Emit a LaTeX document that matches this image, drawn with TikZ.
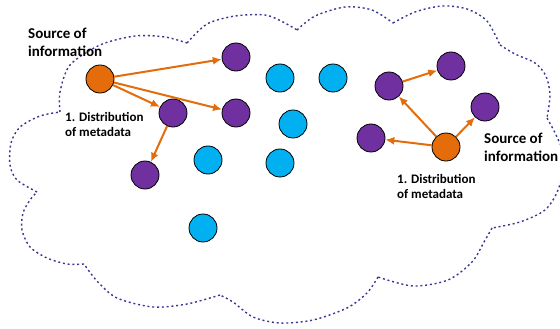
\documentclass[tikz,border=0pt]{standalone}
\usepackage{fontspec}
\setmainfont{Carlito}
\usepackage{tikz}
\usetikzlibrary{shapes,arrows,arrows.meta}
\definecolor{srcorange}{RGB}{228,108,10}
\definecolor{peerpurple}{RGB}{112,48,160}
\definecolor{idleblue}{RGB}{0,176,240}
\definecolor{cloudblue}{RGB}{55,55,150}
\tikzstyle{source} = [draw, circle, fill=srcorange, minimum size=28pt, inner sep=0pt, line width=0.8pt]
\tikzstyle{peer} = [draw, circle, fill=peerpurple, minimum size=28pt, inner sep=0pt, line width=0.8pt]
\tikzstyle{idle} = [draw, circle, fill=idleblue, minimum size=28pt, inner sep=0pt, line width=0.8pt]
\tikzstyle{flow} = [draw, ->, srcorange, line width=2pt]
\tikzstyle{cloud} = [draw, cloudblue, line width=1.4pt, dash pattern=on 2pt off 2.8pt]
\tikzstyle{caption} = [align=left, inner sep=0pt, anchor=base west, font=\bfseries\fontsize{15}{18}\selectfont]
\tikzstyle{subcaption} = [align=left, inner sep=0pt, anchor=base west, font=\bfseries\fontsize{13}{15.5}\selectfont]

\begin{document}
\begin{tikzpicture}[x=1pt, y=-1pt, >={Latex[length=9pt,width=8pt]}]
    \useasboundingbox (0,0) rectangle (560,329);
    % We start by drawing the cloud, one lobe at a time
    \path [cloud]
      plot [smooth] coordinates {(60,112) (60,92) (70,65) (100,45) (135,36) (165,37) (187,43)}
      plot [smooth] coordinates {(187,43) (207,24) (235,16) (265,15) (283,22) (297,30)}
      plot [smooth] coordinates {(297,30) (315,16) (345,7) (372,10) (393,23)}
      plot [smooth] coordinates {(393,23) (415,12) (442,6) (467,9) (487,21) (500,45)}
      plot [smooth] coordinates {(500,45) (515,54) (535,63) (546,76) (550,95) (547,118)}
      plot [smooth] coordinates {(547,118) (557,137) (565,160) (558,190) (545,210) (520,222) (492,228)}
      plot [smooth] coordinates {(492,228) (484,242) (472,262) (448,280) (413,286) (378,277)}
      plot [smooth] coordinates {(378,277) (367,293) (347,308) (313,320) (280,323) (253,317) (233,302) (220,295)}
      plot [smooth] coordinates {(220,295) (187,304) (153,307) (117,298) (97,281) (84,264)}
      plot [smooth] coordinates {(84,264) (67,264) (47,258) (30,247) (22,230) (23,213) (30,200) (37,192)}
      plot [smooth] coordinates {(37,192) (17,180) (10,165) (11,143) (20,127) (40,116) (60,112)};

    % Then we place the nodes
    \node [source] (srcleft) at (100,79) {};
    \node [peer] (pleftA) at (236,57) {};
    \node [peer] (pleftB) at (236,113) {};
    \node [peer] (pleftC) at (173,113) {};
    \node [peer] (pleftD) at (145,175) {};

    \node [idle] (idleA) at (280,78) {};
    \node [idle] (idleB) at (333,78) {};
    \node [idle] (idleC) at (293,124) {};
    \node [idle] (idleD) at (208,160) {};
    \node [idle] (idleE) at (280,163) {};
    \node [idle] (idleF) at (203,228) {};

    \node [source] (srcright) at (446,147) {};
    \node [peer] (prightA) at (389,86) {};
    \node [peer] (prightB) at (451,66) {};
    \node [peer] (prightC) at (485,107) {};
    \node [peer] (prightD) at (371,138) {};

    % The labels (anchored on the baseline of the last line)
    \node [caption] (srcleftlbl) at (28,57) {Source of\\information};
    \node [subcaption] (metaleftlbl) at (65,136.5) {1. Distribution\\of metadata};
    \node [caption] (srcrightlbl) at (484,161) {Source of\\information};
    \node [subcaption] (metarightlbl) at (397,198.5) {1. Distribution\\of metadata};

    % Once the nodes are placed, connecting them is easy.
    \draw [flow] (srcleft) -- (pleftA);
    \draw [flow] (srcleft) -- (pleftB);
    \draw [flow] (srcleft) -- (pleftC);
    \draw [flow] (pleftC) -- (pleftD);
    \draw [flow] (srcright) -- (prightD);
    \draw [flow] (srcright) -- (prightA);
    \draw [flow] (srcright) -- (prightC);
    \draw [flow] (prightA) -- (prightB);
\end{tikzpicture}
\end{document}
